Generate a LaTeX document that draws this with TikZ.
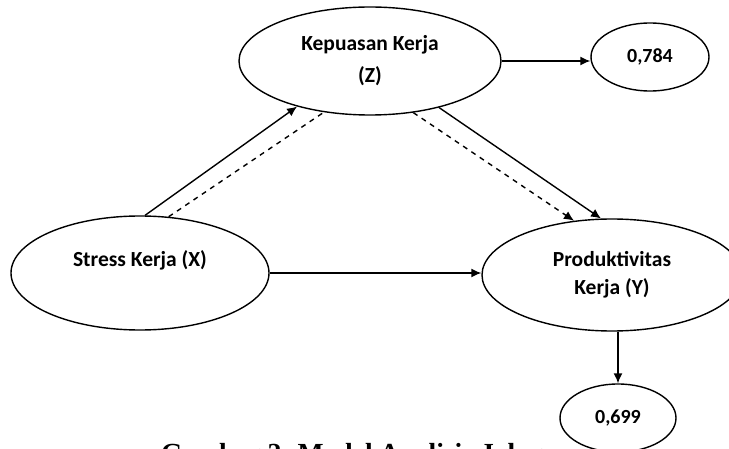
\documentclass[tikz,border=0pt]{standalone}
\usepackage{fontspec}
\setmainfont{Carlito}
\newfontfamily\captionfont{Liberation Serif}
\usetikzlibrary{shapes.geometric, arrows.meta}

\begin{document}
\begin{tikzpicture}[x=0.5pt, y=-0.5pt, line width=0.7pt, >={Latex[length=5pt, width=4.5pt]},
  every node/.style={anchor=center, draw, ellipse, align=center, inner sep=0pt,
    font=\bfseries\fontsize{10.75}{14}\selectfont}]
  \useasboundingbox (0,0) rectangle (729,449);
  \clip (0,0) rectangle (729,449);

  \node[minimum width=131pt, minimum height=54pt] (Z) at (370,61) {Kepuasan Kerja\\[2pt](Z)};
  \node[minimum width=129pt, minimum height=57pt] (X) at (140,273) {Stress Kerja (X)\\\mbox{}};
  \node[minimum width=130pt, minimum height=56pt] (Y) at (612,275) {Produktivitas\\Kerja (Y)};
  \node[minimum width=59pt, minimum height=34pt, font=\bfseries\fontsize{10}{12}\selectfont] (o784) at (650,57) {0,784};
  \node[minimum width=58pt, minimum height=34pt, font=\bfseries\fontsize{10}{12}\selectfont] (o699) at (618,418) {0,699};
  \node[draw=none, ellipse=none, anchor=base, font=\captionfont\bfseries\fontsize{13.8}{16}\selectfont] (cap) at (352,462) {Gambar 2. Model Analisis Jalur};

  \path[draw, ->] (X.85) -- (Z.212.6);
  \path[draw, dash pattern=on 2.5pt off 2.5pt] (X.63) -- (Z.228);
  \path[draw, ->] (Z.326) -- (Y.101.9);
  \path[draw, ->, dash pattern=on 2.5pt off 2.5pt] (Z.310) -- (Y.125.7);
  \path[draw, ->] (X.east) -- (Y.west |- X.east);
  \path[draw, ->] (Z.east) -- (o784.west |- Z.east);
  \path[draw, ->] (o699.north |- Y.south) -- (o699.north);
\end{tikzpicture}
\end{document}
